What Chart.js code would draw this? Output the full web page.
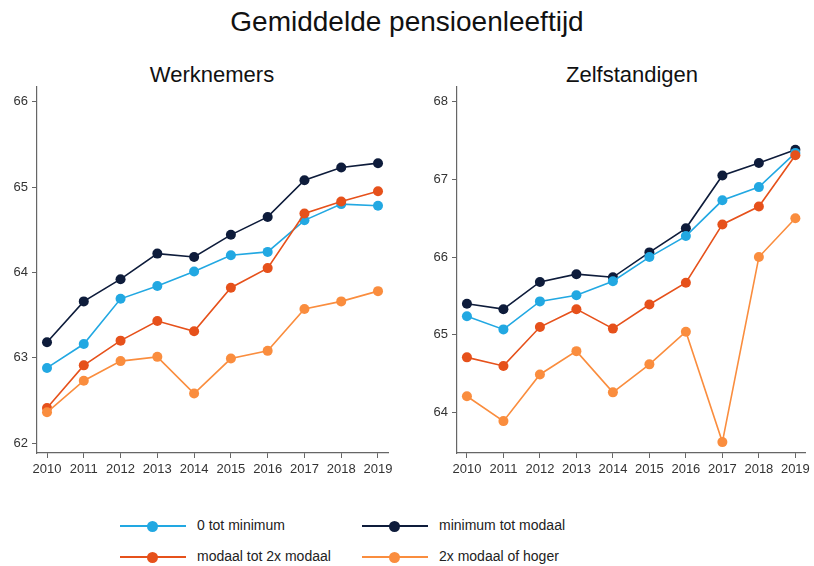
<!DOCTYPE html>
<html>
<head>
<meta charset="utf-8">
<script src="https://cdn.jsdelivr.net/npm/chart.js@4"></script>
<style>
  body { margin: 0; background: #fff; font-family: "Liberation Sans", Arial, sans-serif; }
  #page { position: relative; width: 814px; height: 566px; overflow: hidden; }
  .txt { position: absolute; color: #111; white-space: nowrap; transform: translateX(-50%); }
  .box { position: absolute; top: 75px; height: 415px; }
  #legend .item { position: absolute; font-size: 14px; color: #222; }
  #legend .line { position: absolute; height: 2px; width: 66px; }
  #legend .dot { position: absolute; width: 11px; height: 11px; border-radius: 50%; }
</style>
</head>
<body>
<div id="page">
  <div class="txt" style="left:407px;top:6px;font-size:28px;">Gemiddelde pensioenleeftijd</div>
  <div class="txt" style="left:212px;top:62px;font-size:22px;">Werknemers</div>
  <div class="txt" style="left:632px;top:62px;font-size:22px;">Zelfstandigen</div>
  <div class="box" style="left:0;width:400px;"><canvas id="left"></canvas></div>
  <div class="box" style="left:410px;width:404px;"><canvas id="right"></canvas></div>
  <div id="legend"></div>
</div>
<script>
const years = [2010, 2011, 2012, 2013, 2014, 2015, 2016, 2017, 2018, 2019];
const seriesNames = ["0 tot minimum", "minimum tot modaal", "modaal tot 2x modaal", "2x modaal of hoger"];
const seriesColors = ["#22a8e2", "#0e1c3b", "#e6511b", "#fa8d3e"];

// Werknemers
const wkMin = [62.88, 63.16, 63.69, 63.84, 64.01, 64.20, 64.24, 64.61, 64.80, 64.78];
const wkMinModaal = [63.18, 63.66, 63.92, 64.22, 64.18, 64.44, 64.65, 65.08, 65.23, 65.28];
const wkModaal2x = [62.41, 62.91, 63.20, 63.43, 63.31, 63.82, 64.05, 64.69, 64.83, 64.95];
const wk2xHoger = [62.36, 62.73, 62.96, 63.01, 62.58, 62.99, 63.08, 63.57, 63.66, 63.78];

// Zelfstandigen
const zsMin = [65.24, 65.07, 65.43, 65.51, 65.69, 66.00, 66.27, 66.73, 66.90, 67.34];
const zsMinModaal = [65.40, 65.33, 65.68, 65.78, 65.74, 66.06, 66.37, 67.05, 67.21, 67.38];
const zsModaal2x = [64.71, 64.60, 65.10, 65.33, 65.08, 65.39, 65.67, 66.42, 66.65, 67.31];
const zs2xHoger = [64.21, 63.89, 64.49, 64.79, 64.26, 64.62, 65.04, 63.62, 66.00, 66.50];

const leftTicks = [62, 63, 64, 65, 66];
const rightTicks = [64, 65, 66, 67, 68];

function makeDatasets(list) {
  // draw order: light orange, red, light blue, navy on top
  const order = [3, 2, 0, 1];
  return order.map(i => ({
    label: seriesNames[i],
    data: years.map((y, j) => ({ x: y, y: list[i][j] })),
    borderColor: seriesColors[i],
    backgroundColor: seriesColors[i],
    borderWidth: 1.6,
    pointRadius: 5,
    pointBorderWidth: 0,
    pointHoverRadius: 5,
    tension: 0
  }));
}

function makeChart(id, list, yMin, yMax, ticks, yWidth, padRight) {
  return new Chart(document.getElementById(id), {
    type: "line",
    data: { datasets: makeDatasets(list) },
    options: {
      responsive: true,
      maintainAspectRatio: false,
      animation: false,
      layout: { padding: { top: 5, right: padRight, left: 0, bottom: 0 } },
      plugins: { legend: { display: false }, tooltip: { enabled: false } },
      scales: {
        x: {
          type: "linear",
          min: 2010 - 0.272,
          max: 2019 + 0.272,
          afterFit: s => { s.height = 37; },
          afterBuildTicks: s => { s.ticks = years.map(v => ({ value: v })); },
          ticks: { font: { size: 13 }, color: "#333", padding: 4, maxRotation: 0, autoSkip: false,
                   callback: v => String(v) },
          grid: { drawOnChartArea: false, drawTicks: true, tickLength: 5, color: "#666" },
          border: { display: true, color: "#666", width: 1.2 }
        },
        y: {
          min: yMin,
          max: yMax,
          afterFit: s => { s.width = yWidth; },
          afterBuildTicks: s => { s.ticks = ticks.map(v => ({ value: v })); },
          ticks: { font: { size: 13 }, color: "#333", padding: 4 },
          grid: { drawOnChartArea: false, drawTicks: true, tickLength: 5, color: "#666" },
          border: { display: true, color: "#666", width: 1.2 }
        }
      }
    }
  });
}

makeChart("left", [wkMin, wkMinModaal, wkModaal2x, wk2xHoger], 61.883, 66.175, leftTicks, 37, 12);
makeChart("right", [zsMin, zsMinModaal, zsModaal2x, zs2xHoger], 63.48, 68.19, rightTicks, 47, 6);

// legend
const legend = document.getElementById("legend");
const legendPos = [[120, 526], [362, 526], [120, 557], [362, 557]];
seriesNames.forEach((name, i) => {
  const [x, y] = legendPos[i];
  const line = document.createElement("div");
  line.className = "line";
  line.style.cssText = `left:${x}px;top:${y - 1}px;background:${seriesColors[i]}`;
  const dot = document.createElement("div");
  dot.className = "dot";
  dot.style.cssText = `left:${x + 27}px;top:${y - 5.5}px;background:${seriesColors[i]}`;
  const label = document.createElement("div");
  label.className = "item";
  label.textContent = name;
  label.style.cssText = `left:${x + 77}px;top:${y - 9}px`;
  legend.append(line, dot, label);
});
</script>
</body>
</html>
